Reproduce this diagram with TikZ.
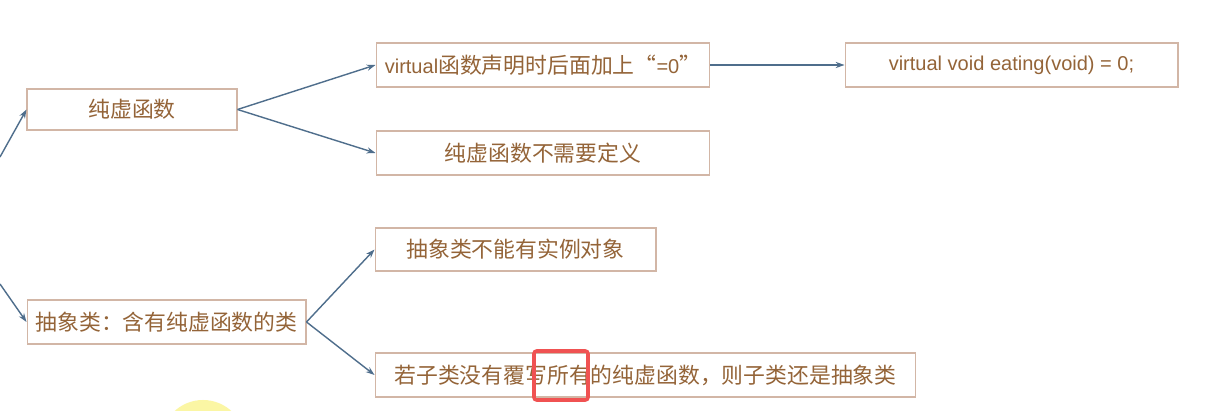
\documentclass[tikz,border=0pt]{standalone}
\usepackage{fontspec}
\setmainfont{Liberation Sans}
\newfontfamily\cjk[Scale=1.09]{Noto Sans CJK SC}
\usetikzlibrary{arrows.meta}
\definecolor{boxline}{HTML}{D2B6A6}
\definecolor{txt}{HTML}{946438}
\definecolor{arr}{HTML}{4F6E8C}
\definecolor{redmark}{HTML}{F05252}
\definecolor{glow}{HTML}{FBF6A4}
\tikzset{
  mbox/.style={draw=boxline, line width=0.6pt, fill=white, inner sep=0pt,
    text=txt, font=\fontsize{11.4}{13}\selectfont, minimum height=0.88cm, anchor=center},
  link/.style={draw=arr, line width=0.8pt, -{Stealth[length=5pt,width=3.5pt]}},
}
\begin{document}
\begin{tikzpicture}[x=0.02cm, y=-0.02cm]
\useasboundingbox (0,0) rectangle (1218,411);
\fill[white] (0,0) rectangle (1218,411);
\begin{scope}
\clip (0,0) rectangle (1218,411);
\fill[glow] (203,442) circle (42);
\end{scope}

\coordinate (in1) at (0,157);
\coordinate (in2) at (0,284);

\node[mbox, minimum width=4.2cm, minimum height=0.82cm] (A) at (132,109.5) {\cjk 纯虚函数};
\node[mbox, minimum width=6.68cm] (B) at (543,65) {virtual{\cjk 函数声明时后面加上“}=0{\cjk ”}};
\node[mbox, minimum width=6.66cm] (C) at (1011.5,65) {virtual void eating(void) = 0;};
\node[mbox, minimum width=6.68cm] (D) at (543,153) {\cjk 纯虚函数不需要定义};
\node[mbox, minimum width=5.58cm] (E) at (166.5,322) {\cjk 抽象类：含有纯虚函数的类};
\node[mbox, minimum width=5.62cm, minimum height=0.86cm] (F) at (515.5,249.5) {\cjk 抽象类不能有实例对象};
\node[mbox, minimum width=10.82cm] (G) at (645.5,375) {\cjk 若子类没有覆写所有的纯虚函数，则子类还是抽象类};

\draw[link] (in1) -- (A.west);
\draw[link] (in2) -- (E.west);
\draw[link] (A.east) -- (B.west);
\draw[link] (A.east) -- (D.west);
\draw[link] (B.east) -- (C.west);
\draw[link] (E.east) -- (F.west);
\draw[link] (E.east) -- (G.west);

\draw[redmark, line width=2pt, rounded corners=1.5pt] (534,351) rectangle (588,400);
\end{tikzpicture}
\end{document}
